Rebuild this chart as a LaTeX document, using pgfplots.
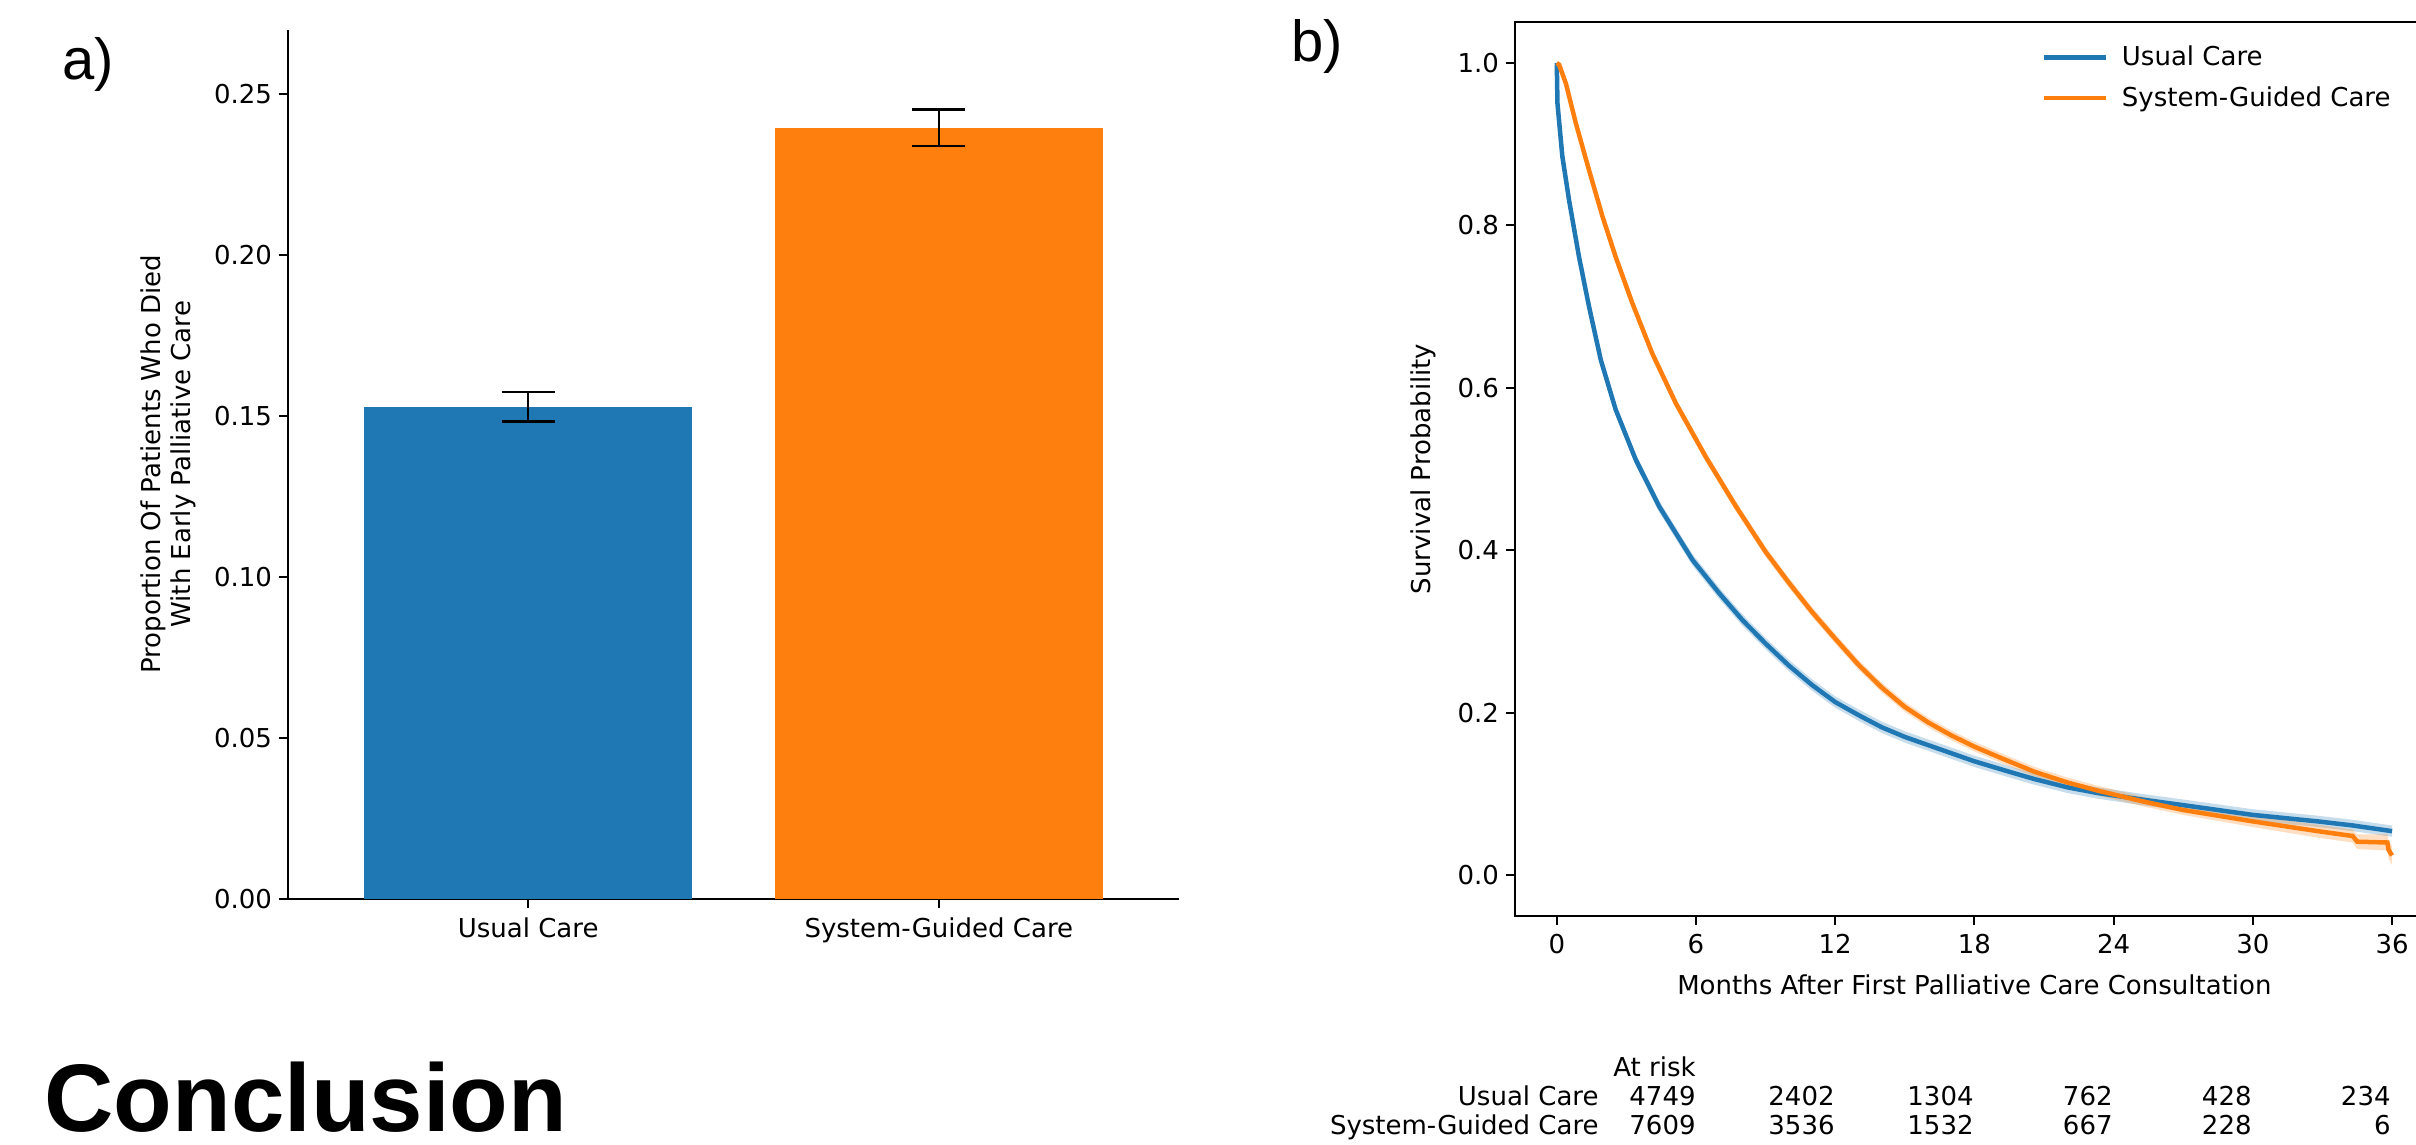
\documentclass[border=0pt]{standalone}
\usepackage{fontspec}
\setmainfont{DejaVu Sans}
\newfontfamily\arial{Liberation Sans}
\usepackage{pgfplots}
\usepackage{pgfplotstable}
\pgfplotsset{compat=1.18}
\usepgfplotslibrary{fillbetween}
\definecolor{tabblue}{RGB}{31,119,180}
\definecolor{taborange}{RGB}{255,127,14}

\pgfplotstableread{
t s lo hi
0 1.000 1.000 1.000
0.03 0.950 0.946 0.954
0.24 0.885 0.880 0.890
0.53 0.831 0.825 0.837
0.96 0.761 0.755 0.767
1.39 0.700 0.694 0.706
1.90 0.634 0.627 0.641
2.54 0.573 0.566 0.580
3.41 0.511 0.504 0.518
4.41 0.454 0.447 0.461
5.85 0.388 0.381 0.395
7 0.347 0.340 0.354
8 0.314 0.307 0.321
9 0.285 0.278 0.292
10 0.258 0.251 0.265
11 0.234 0.227 0.241
12 0.213 0.206 0.220
13 0.197 0.190 0.204
14 0.182 0.175 0.189
15 0.170 0.163 0.177
16 0.160 0.153 0.167
17 0.150 0.143 0.157
18 0.140 0.133 0.147
19.4 0.128 0.121 0.135
20.6 0.118 0.111 0.125
22 0.108 0.101 0.115
23.3 0.101 0.094 0.108
25.2 0.093 0.086 0.100
27 0.086 0.079 0.093
30 0.074 0.067 0.081
32.8 0.066 0.059 0.073
34.3 0.061 0.054 0.068
36 0.054 0.047 0.061
}\usual

\pgfplotstableread{
t s lo hi
0 1.000 1.000 1.000
0.1 0.998 0.996 1.000
0.39 0.975 0.972 0.978
0.82 0.926 0.922 0.930
1.39 0.868 0.863 0.873
1.97 0.811 0.806 0.816
2.54 0.761 0.755 0.767
3.26 0.704 0.698 0.710
4.12 0.642 0.636 0.648
5.13 0.581 0.575 0.587
6.42 0.515 0.509 0.521
7.72 0.454 0.448 0.460
9 0.398 0.392 0.404
10 0.360 0.354 0.366
11 0.324 0.318 0.330
12 0.291 0.285 0.297
13 0.259 0.253 0.265
14 0.231 0.225 0.237
15 0.207 0.201 0.213
16 0.188 0.182 0.194
17 0.172 0.166 0.178
18 0.158 0.152 0.164
19.4 0.141 0.135 0.147
20.6 0.127 0.121 0.133
22 0.114 0.108 0.120
23.3 0.104 0.098 0.110
25.2 0.091 0.085 0.097
27 0.080 0.074 0.086
30 0.066 0.059 0.073
32.8 0.054 0.046 0.062
34.3 0.048 0.040 0.056
34.5 0.041 0.032 0.050
35.8 0.040 0.030 0.050
35.85 0.031 0.020 0.042
36 0.024 0.012 0.036
}\sgc

\begin{document}
\begin{tikzpicture}
\pgfplotsset{every axis/.append style={
  font=\fontsize{13}{15}\selectfont,
  /pgf/number format/assume math mode=true,
  tick align=outside, major tick length=4.5pt,
  tick style={line width=1pt, black},
  axis line style={line width=1pt},
  xticklabel style={yshift=-1.5pt},
  scale only axis}}

% a) bar chart
\begin{axis}[at={(144pt,123pt)}, anchor=south west,
  width=445.5pt, height=434.7pt,
  xmin=-0.585, xmax=1.585, ymin=0, ymax=0.27,
  axis x line*=bottom, axis y line*=left,
  xtick={0,1}, xticklabels={Usual Care,System-Guided Care},
  ytick={0,0.05,0.1,0.15,0.2,0.25},
  scaled y ticks=false,
  yticklabel style={/pgf/number format/.cd, fixed, fixed zerofill, precision=2},
  ylabel={Proportion Of Patients Who Died\\With Early Palliative Care},
  ylabel style={align=center, at={(axis description cs:-0.134,0.5)}, anchor=center},
]
\addplot[ybar, bar width=0.8, bar shift=0pt, fill=tabblue, draw=none,
  error bars/.cd, y dir=both, y explicit,
  error bar style={line width=1.25pt, black},
  error mark options={rotate=90, mark size=13.3pt, line width=1.25pt, black}]
  coordinates {(0,0.1529) +- (0,0.0046)};
\addplot[ybar, bar width=0.8, bar shift=0pt, fill=taborange, draw=none,
  error bars/.cd, y dir=both, y explicit,
  error bar style={line width=1.25pt, black},
  error mark options={rotate=90, mark size=13.3pt, line width=1.25pt, black}]
  coordinates {(1,0.2395) +- (0,0.0057)};
\end{axis}

% b) survival curves
\begin{axis}[at={(757.5pt,114.7pt)}, anchor=south west,
  width=459.4pt, height=446.6pt,
  xmin=-1.8, xmax=37.8, ymin=-0.05, ymax=1.05,
  xtick={0,6,12,18,24,30,36}, ytick={0,0.2,0.4,0.6,0.8,1},
  xtick pos=bottom, ytick pos=left,
  yticklabel style={/pgf/number format/.cd, fixed, fixed zerofill, precision=1},
  xlabel={Months After First Palliative Care Consultation},
  xlabel style={at={(axis description cs:0.5,-0.0773)}, anchor=center},
  ylabel={Survival Probability},
  ylabel style={at={(axis description cs:-0.1001,0.5)}, anchor=center},
  legend cell align=left,
  legend style={draw=none, fill=none, at={(axis description cs:0.566,0.983)}, anchor=north west,
    font=\fontsize{13}{15}\selectfont, row sep=5pt},
  legend image code/.code={\draw[#1, line width=2.25pt] (0pt,0pt) -- (31pt,0pt); \path (36pt,0pt);},
]
\addplot[name path=ub, draw=none, forget plot] table[x=t,y=hi]{\usual};
\addplot[name path=lb, draw=none, forget plot] table[x=t,y=lo]{\usual};
\addplot[fill=tabblue, fill opacity=0.25, draw=none, forget plot] fill between[of=ub and lb];
\addplot[tabblue, line width=2.25pt] table[x=t,y=s]{\usual};
\addlegendentry{Usual Care}
\addplot[name path=uo, draw=none, forget plot] table[x=t,y=hi]{\sgc};
\addplot[name path=lw, draw=none, forget plot] table[x=t,y=lo]{\sgc};
\addplot[fill=taborange, fill opacity=0.25, draw=none, forget plot] fill between[of=uo and lw];
\addplot[taborange, line width=2.25pt] table[x=t,y=s]{\sgc};
\addlegendentry{System-Guided Care}
\end{axis}

% at-risk table
\begin{scope}[every node/.style={font=\fontsize{13}{15}\selectfont, inner sep=0pt, anchor=base east}]
\node at (848pt,34pt) {At risk};
\node at (799.5pt,19.5pt) {Usual Care};
\node at (799.5pt,5pt) {System-Guided Care};
\node at (848pt,19.5pt) {4749};
\node at (917.5pt,19.5pt) {2402};
\node at (987pt,19.5pt) {1304};
\node at (1056.5pt,19.5pt) {762};
\node at (1126pt,19.5pt) {428};
\node at (1195.5pt,19.5pt) {234};
\node at (848pt,5pt) {7609};
\node at (917.5pt,5pt) {3536};
\node at (987pt,5pt) {1532};
\node at (1056.5pt,5pt) {667};
\node at (1126pt,5pt) {228};
\node at (1195.5pt,5pt) {6};
\end{scope}

\node[anchor=base west, inner sep=0pt, font=\arial\bfseries\fontsize{48}{50}\selectfont] at (22pt,6.5pt) {Conclusion};
\node[anchor=base west, inner sep=0pt, font=\arial\fontsize{29}{30}\selectfont] at (31pt,532.5pt) {a)};
\node[anchor=base west, inner sep=0pt, font=\arial\fontsize{29}{30}\selectfont] at (645.5pt,541.5pt) {b)};
\pgfresetboundingbox
\path[use as bounding box] (0,0) rectangle (1208pt,572.5pt);
\end{tikzpicture}
\end{document}
